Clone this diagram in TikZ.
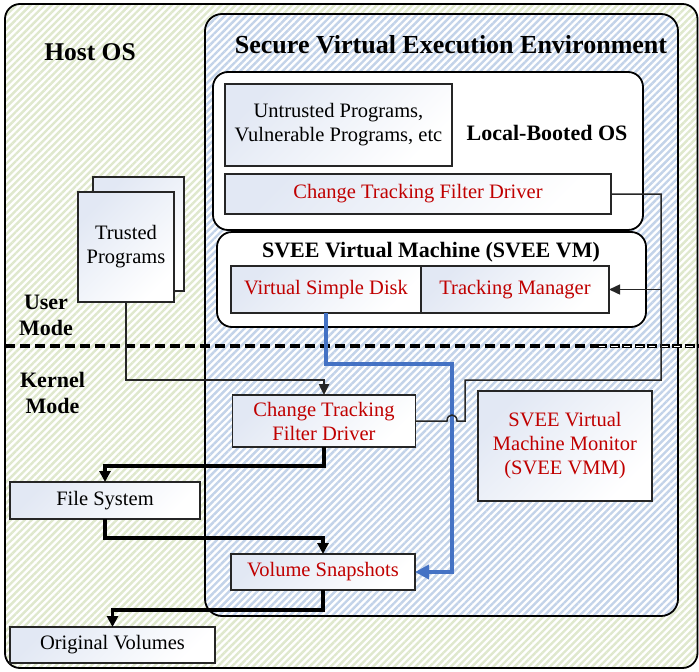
\documentclass[tikz,border=0pt]{standalone}
\usepackage{fontspec}
\setmainfont{Liberation Serif}
\usetikzlibrary{patterns.meta,arrows.meta}
\definecolor{hostgreen}{HTML}{DFE8CD}
\definecolor{sveeblue}{HTML}{C3D3E9}
\definecolor{boxblue}{HTML}{E2E8F4}
\definecolor{txtred}{HTML}{C00000}
\definecolor{flowblue}{HTML}{4472C4}
\definecolor{edge}{HTML}{262626}
\begin{document}
\begin{tikzpicture}[x=1pt,y=-1pt,
  every node/.style={inner sep=0pt, outer sep=0pt, align=center},
  gbox/.style={draw=edge, line width=1.4pt, top color=boxblue, bottom color=white, shading angle=45, font=\fontsize{20.5}{24}\selectfont},
  redtext/.style={text=txtred},
  container/.style={draw=black, line width=1.8pt, rounded corners=15pt},
  hostfill/.style={preaction={fill=white}, pattern={Lines[angle=45,distance=5pt,line width=2.4pt]}, pattern color=hostgreen},
  sveefill/.style={preaction={fill=white}, pattern={Lines[angle=45,distance=5pt,line width=2.4pt]}, pattern color=sveeblue},
  title/.style={font=\bfseries\fontsize{#1}{#1}\selectfont},
  thinline/.style={draw=edge, line width=1.5pt},
  arrthin/.style={draw=edge, line width=1.5pt, -{Triangle[length=11pt,width=10pt]}},
  arrmid/.style={draw=edge, line width=2.4pt, -{Triangle[length=11pt,width=10pt]}},
  arrthick/.style={draw=black, line width=3.2pt, -{Triangle[length=11pt,width=11pt]}},
  blueflow/.style={draw=flowblue, line width=3.8pt, -{Triangle[length=14pt,width=14pt]}},
]
\useasboundingbox (0,0) rectangle (699,672);

% containers
\node[container, hostfill, minimum width=692.5pt, minimum height=664pt] (host) at (351.25,336) {};
\node[container, sveefill, rounded corners=17pt, minimum width=473pt, minimum height=602pt] (svee) at (441.5,315) {};
\node[container, fill=white, minimum width=430pt, minimum height=158pt] (lbos) at (428,151) {};
\node[container, fill=white, minimum width=429pt, minimum height=95pt] (sveevm) at (431.5,279.5) {};

% titles
\node[title=25.5] (hosttitle) at (90,52) {Host OS};
\node[title=26] (sveetitle) at (451,45) {Secure Virtual Execution Environment};
\node[title=22] (lbostitle) at (547,133) {Local-Booted OS};
\node[title=22] (vmtitle) at (431,252) {SVEE Virtual Machine (SVEE VM)};
\node[font=\bfseries\fontsize{22}{26}\selectfont] (user) at (46,315) {User\\Mode};
\node[font=\bfseries\fontsize{22}{26}\selectfont] (kernel) at (52.5,393) {Kernel\\Mode};

% mode separator
\coordinate (dl) at (5,346);
\coordinate (dm) at (597,346);
\coordinate (dr) at (699,346);
\draw[black, line width=3.6pt, dash pattern=on 10pt off 5pt] (dl) -- (dm);
\draw[black, line width=4.2pt, dash pattern=on 10pt off 2.5pt] (dm) -- (dr);
\draw[white, line width=0.9pt, dash pattern=on 6.5pt off 6pt, dash phase=-1.8pt] (dm) -- (dr);

% boxes
\node[gbox, minimum width=227pt, minimum height=82pt] (untrusted) at (338.5,125) {Untrusted Programs,\\Vulnerable Programs, etc};
\node[gbox, redtext, minimum width=386pt, minimum height=40pt] (ctfdtop) at (418,194) {Change Tracking Filter Driver};
\node[gbox, redtext, minimum width=190pt, minimum height=47pt] (vsd) at (326,289.5) {Virtual Simple Disk};
\node[gbox, redtext, minimum width=188pt, minimum height=47pt] (tm) at (515,289.5) {Tracking Manager};
\node[gbox, minimum width=91pt, minimum height=114pt] (tpback) at (138.5,234) {};
\node[gbox, minimum width=96pt, minimum height=110pt] (tp) at (126,247) {Trusted\\Programs};
\node[gbox, redtext, minimum width=183pt, minimum height=52pt] (ctfdlow) at (324,421) {Change Tracking\\Filter Driver};
\node[gbox, minimum width=190pt, minimum height=37pt] (fs) at (105,500.5) {File System};
\node[gbox, redtext, minimum width=184pt, minimum height=36pt] (vs) at (323,572) {Volume Snapshots};
\node[gbox, minimum width=205pt, minimum height=36pt] (ov) at (112.5,645) {Original Volumes};
\node[gbox, redtext, minimum width=174pt, minimum height=110pt] (vmm) at (565,446) {SVEE Virtual\\Machine Monitor\\(SVEE VMM)};

% connectors
\draw[arrmid] (tp.south) -- ++(0,78) -| (ctfdlow.north);
\draw[arrthick] (ctfdlow.south) -- ++(0,19) -| (fs.north);
\draw[arrthick] (fs.south) -- ++(0,19) -| (vs.north);
\draw[arrthick] (vs.south) -- ++(0,20) -| (ov.north);

\coordinate (b1) at (452,364);
\draw[blueflow] (vsd.south) |- (b1) |- (vs.east);

\coordinate (r1) at (661,380);
\coordinate (r2) at (465,380);
\coordinate (h1) at (457,421);
\coordinate (h2) at (447,421);
\draw[thinline] (ctfdtop.east) -| (r1) -- (r2) |- (h1) .. controls (457,413) and (447,413) .. (h2) -- (ctfdlow.east);
\draw[arrthin] (r1 |- tm.east) -- (tm.east);
\end{tikzpicture}
\end{document}
